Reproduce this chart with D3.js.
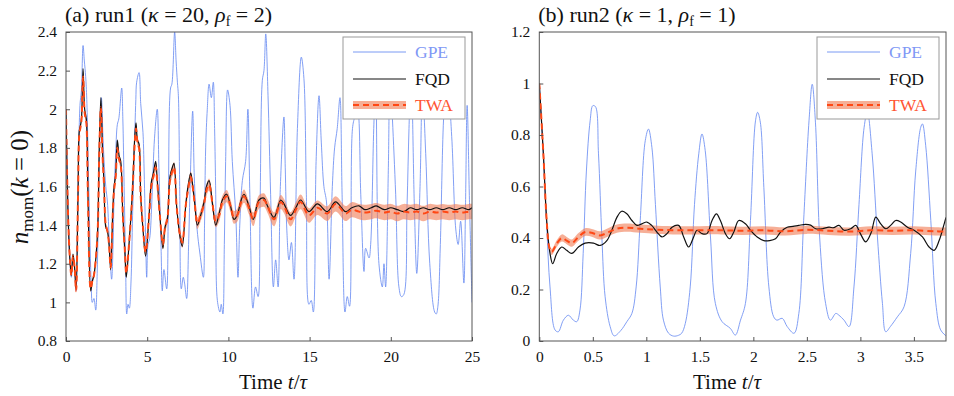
<!DOCTYPE html>
<html><head><meta charset="utf-8">
<script src="https://cdn.jsdelivr.net/npm/d3@7"></script>
<style>
body{margin:0;background:#fff;}
svg text{font-family:"Liberation Serif","DejaVu Serif",serif;}
</style></head>
<body><svg id="c" width="954" height="396"></svg>
<script>
// ---------- Panel (a) data ----------
const gpeT1 = [0,0.12,0.25,0.33,0.43,0.53,0.62,0.74,0.86,0.95,1.05,1.13,1.21,1.28,1.4,1.55,1.62,1.72,1.83,1.92,2.02,2.1,2.18,2.28,2.34,2.45,2.55,2.65,2.81,2.9,2.96,3.05,3.16,3.25,3.43,3.5,3.58,3.67,3.74,3.82,3.9,4.0,4.1,4.19,4.3,4.35,4.5,4.6,4.74,4.8,4.9,4.97,5.05,5.15,5.3,5.45,5.62,5.72,5.85,5.93,6.03,6.2,6.3,6.44,6.52,6.69,6.78,6.86,6.92,7.0,7.1,7.22,7.3,7.43,7.55,7.63,7.8,7.9,8.06,8.25,8.46,8.53,8.6,8.7,8.81,8.95,9.07,9.15,9.22,9.32,9.48,9.56,9.66,9.75,9.83,9.95,10.1,10.24,10.45,10.59,10.7,10.86,11.06,11.2,11.32,11.51,11.67,11.83,11.95,12.09,12.19,12.3,12.44,12.6,12.77,12.91,13.06,13.2,13.42,13.5,13.6,13.73,13.88,14.04,14.25,14.49,14.65,14.8,14.96,15.1,15.23,15.4,15.58,15.72,15.88,16.04,16.2,16.4,16.54,16.7,16.87,17.0,17.18,17.32,17.46,17.64,17.78,17.95,18.15,18.35,18.45,18.66,18.76,18.95,19.07,19.27,19.48,19.58,19.68,19.85,19.95,20.1,20.3,20.5,20.65,20.8,21.0,21.12,21.25,21.45,21.6,21.8,21.95,22.15,22.4,22.7,22.8,22.9,23.05,23.25,23.45,23.75,24.0,24.15,24.3,24.5,24.6,24.7,24.85,25.0];
const gpeV1 = [2.0,1.5,1.2,1.13,1.24,1.17,1.06,1.55,2.02,2.1,2.33,2.25,2.17,2.05,1.6,1.1,1.0,1.02,0.96,1.15,1.6,1.9,2.06,1.85,1.74,1.6,1.52,1.35,1.12,1.3,1.56,1.75,1.92,1.95,2.11,1.95,1.6,1.21,0.94,0.99,0.97,1.1,1.45,1.73,2.05,2.14,2.19,2.03,1.88,1.72,1.35,1.13,1.3,1.33,1.55,1.85,2.0,1.7,1.3,1.06,1.17,1.07,1.5,2.11,2.13,2.4,2.25,2.14,2.07,1.6,1.07,1.13,1.1,1.02,1.3,1.56,1.99,1.65,1.39,1.25,1.13,1.4,1.8,2.0,2.13,2.06,2.14,1.9,1.56,1.01,0.95,0.99,0.94,1.3,1.73,2.1,2.02,1.73,1.46,1.13,1.4,1.63,1.73,2.0,1.56,0.97,1.08,1.03,1.5,2.15,2.2,2.39,2.07,1.56,1.08,1.22,1.08,1.6,1.96,1.7,1.37,1.22,1.31,1.12,1.9,2.27,2.16,1.56,0.99,1.01,0.95,1.73,2.07,1.83,1.6,1.52,1.12,1.6,1.8,1.9,2.06,1.56,0.95,1.03,0.98,1.9,1.96,2.0,1.56,1.16,1.28,1.23,1.3,1.9,2.15,1.2,1.08,1.2,1.08,1.7,2.2,1.95,1.56,1.08,1.03,1.04,1.5,1.9,2.2,1.5,1.15,1.6,2.1,1.77,1.2,0.95,0.94,0.98,1.3,1.95,2.2,1.86,1.38,1.3,1.42,1.1,1.5,2.02,1.5,1.0];

const meanT1 = [0,0.12,0.25,0.33,0.43,0.53,0.62,0.74,0.82,0.9,0.96,1.05,1.15,1.25,1.35,1.52,1.62,1.72,1.82,1.95,2.05,2.15,2.25,2.34,2.45,2.55,2.65,2.75,2.88,2.96,3.06,3.16,3.27,3.37,3.5,3.63,3.71,3.88,4.08,4.23,4.31,4.4,4.5,4.6,4.74,4.9,5.1,5.25,5.38,5.52,5.62,5.78,5.97,6.1,6.24,6.4,6.55,6.65,6.81,7.02,7.16,7.37,7.51,7.68,7.78,7.93,8.09,8.29,8.5,8.65,8.81,9.02,9.22,9.43,9.63,9.89,10.13,10.34,10.54,10.75,10.96,11.26,11.53,11.88,12.19,12.4,12.81,13.22,13.42,13.83,14.15,14.45,14.96,15.48,16.09,16.6,17.22,17.6,18.04,18.4,18.8,19.1,19.6,20.0,20.4,20.8,21.2,21.6,22.0,22.4,22.8,23.2,23.6,24.0,24.4,24.8,25.0];
const fqdV1 = [2.0,1.47,1.21,1.14,1.25,1.18,1.07,1.56,1.89,1.92,1.96,2.21,2.0,1.95,1.56,1.06,1.11,1.14,1.21,1.38,1.81,2.06,1.78,1.62,1.39,1.37,1.3,1.17,1.47,1.6,1.66,1.84,1.76,1.73,1.45,1.25,1.13,1.3,1.56,1.85,1.93,1.84,1.82,1.55,1.38,1.24,1.43,1.62,1.67,1.73,1.63,1.45,1.28,1.39,1.43,1.65,1.7,1.72,1.5,1.34,1.29,1.5,1.6,1.67,1.62,1.51,1.4,1.45,1.52,1.6,1.63,1.51,1.4,1.46,1.53,1.56,1.5,1.43,1.45,1.52,1.56,1.5,1.43,1.53,1.54,1.5,1.44,1.53,1.51,1.45,1.49,1.53,1.47,1.51,1.47,1.52,1.47,1.49,1.5,1.48,1.49,1.5,1.48,1.49,1.48,1.47,1.49,1.48,1.49,1.48,1.49,1.48,1.49,1.48,1.49,1.48,1.49];
const twaV1 = [2.0,1.47,1.21,1.14,1.24,1.18,1.06,1.55,1.87,1.91,1.95,2.17,1.98,1.93,1.55,1.07,1.11,1.14,1.21,1.37,1.78,2.01,1.76,1.61,1.4,1.37,1.3,1.18,1.46,1.58,1.65,1.8,1.74,1.71,1.45,1.26,1.15,1.3,1.55,1.82,1.9,1.83,1.8,1.55,1.39,1.26,1.43,1.6,1.65,1.7,1.62,1.45,1.3,1.39,1.43,1.63,1.68,1.7,1.5,1.35,1.31,1.5,1.58,1.65,1.61,1.51,1.41,1.45,1.51,1.58,1.61,1.51,1.42,1.45,1.52,1.55,1.5,1.44,1.45,1.51,1.55,1.49,1.43,1.52,1.53,1.5,1.43,1.52,1.5,1.43,1.48,1.52,1.45,1.49,1.46,1.51,1.46,1.48,1.47,1.465,1.47,1.475,1.465,1.47,1.46,1.47,1.465,1.47,1.46,1.47,1.465,1.47,1.465,1.47,1.465,1.47,1.47];
const twaE1 = [0.005,0.008,0.01,0.01,0.01,0.01,0.012,0.012,0.012,0.012,0.012,0.014,0.014,0.014,0.014,0.015,0.015,0.015,0.015,0.016,0.016,0.016,0.017,0.017,0.017,0.018,0.018,0.018,0.019,0.019,0.019,0.02,0.02,0.02,0.02,0.021,0.021,0.021,0.022,0.022,0.022,0.022,0.023,0.023,0.023,0.024,0.024,0.024,0.025,0.025,0.025,0.025,0.026,0.026,0.026,0.027,0.027,0.027,0.027,0.028,0.028,0.028,0.029,0.029,0.029,0.03,0.03,0.03,0.03,0.03,0.031,0.031,0.031,0.032,0.032,0.032,0.033,0.033,0.033,0.034,0.034,0.034,0.035,0.035,0.035,0.036,0.036,0.036,0.037,0.037,0.037,0.038,0.038,0.038,0.038,0.039,0.039,0.039,0.039,0.04,0.04,0.04,0.04,0.04,0.04,0.04,0.04,0.04,0.04,0.04,0.04,0.04,0.04,0.04,0.04,0.04,0.04];

// ---------- Panel (b) data ----------
const gpeT2 = [0,0.038,0.069,0.1,0.147,0.178,0.225,0.272,0.318,0.35,0.38,0.41,0.44,0.475,0.5,0.525,0.553,0.585,0.615,0.662,0.7,0.76,0.818,0.865,0.905,0.943,0.99,1.02,1.052,1.085,1.13,1.16,1.208,1.255,1.3,1.33,1.364,1.41,1.45,1.49,1.52,1.55,1.6,1.645,1.708,1.785,1.832,1.88,1.926,1.973,2.02,2.04,2.065,2.098,2.145,2.19,2.22,2.27,2.316,2.38,2.425,2.47,2.52,2.55,2.58,2.62,2.675,2.72,2.77,2.8,2.847,2.894,2.94,2.987,3.035,3.065,3.11,3.16,3.206,3.237,3.28,3.346,3.408,3.47,3.517,3.564,3.58,3.61,3.658,3.705,3.75,3.8];
const gpeV2 = [1.0,0.72,0.45,0.21,0.043,0.036,0.081,0.1,0.081,0.075,0.12,0.34,0.66,0.855,0.914,0.91,0.727,0.40,0.172,0.056,0.02,0.04,0.075,0.107,0.21,0.468,0.778,0.823,0.752,0.53,0.21,0.081,0.03,0.019,0.022,0.03,0.068,0.21,0.53,0.727,0.804,0.74,0.40,0.146,0.075,0.049,0.023,0.081,0.146,0.468,0.855,0.888,0.85,0.597,0.21,0.094,0.081,0.088,0.056,0.03,0.107,0.468,0.855,0.997,0.85,0.40,0.146,0.081,0.107,0.10,0.081,0.056,0.21,0.53,0.83,0.89,0.727,0.40,0.146,0.036,0.056,0.094,0.133,0.34,0.66,0.83,0.843,0.76,0.468,0.146,0.043,0.02];

const fqdT2 = [0,0.038,0.069,0.1,0.125,0.163,0.21,0.256,0.303,0.366,0.428,0.506,0.568,0.631,0.678,0.725,0.77,0.818,0.865,0.912,0.958,1.005,1.05,1.099,1.146,1.193,1.24,1.302,1.349,1.395,1.442,1.473,1.52,1.567,1.614,1.655,1.692,1.739,1.779,1.817,1.864,1.926,1.973,2.036,2.098,2.15,2.207,2.254,2.316,2.37,2.425,2.488,2.535,2.582,2.644,2.707,2.75,2.8,2.847,2.91,2.957,3.0,3.05,3.1,3.144,3.19,3.238,3.285,3.33,3.377,3.44,3.502,3.58,3.642,3.689,3.736,3.783,3.8];
const fqdV2 = [1.0,0.727,0.468,0.34,0.30,0.34,0.365,0.352,0.34,0.365,0.38,0.38,0.371,0.39,0.43,0.48,0.504,0.494,0.468,0.449,0.455,0.462,0.449,0.423,0.404,0.417,0.442,0.449,0.404,0.365,0.404,0.43,0.417,0.417,0.468,0.494,0.468,0.417,0.397,0.423,0.468,0.455,0.43,0.404,0.39,0.39,0.397,0.423,0.442,0.445,0.449,0.453,0.45,0.436,0.436,0.442,0.44,0.449,0.43,0.436,0.449,0.417,0.385,0.42,0.481,0.455,0.436,0.45,0.468,0.462,0.442,0.43,0.404,0.365,0.352,0.39,0.455,0.48];

const twaT2 = [0,0.038,0.069,0.093,0.116,0.163,0.21,0.256,0.303,0.366,0.428,0.49,0.568,0.647,0.725,0.818,0.943,1.1,1.3,1.5,1.7,1.9,2.1,2.3,2.5,2.7,2.9,3.1,3.3,3.5,3.7,3.8];
const twaV2 = [1.0,0.727,0.468,0.365,0.346,0.378,0.40,0.39,0.38,0.404,0.423,0.42,0.41,0.423,0.436,0.44,0.436,0.432,0.43,0.43,0.43,0.428,0.43,0.426,0.432,0.428,0.425,0.43,0.428,0.43,0.426,0.425];
const twaE2 = [0.003,0.006,0.008,0.01,0.012,0.013,0.014,0.014,0.014,0.015,0.015,0.015,0.016,0.016,0.016,0.016,0.016,0.016,0.016,0.016,0.016,0.016,0.016,0.016,0.016,0.016,0.016,0.016,0.016,0.016,0.016,0.016];

// ---------- ticks ----------
const xTicks1 = [0,5,10,15,20,25];
const yTicks1 = [0.8,1,1.2,1.4,1.6,1.8,2,2.2,2.4];
const xTicks2 = [0,0.5,1,1.5,2,2.5,3,3.5];
const yTicks2 = [0,0.2,0.4,0.6,0.8,1,1.2];
const legendLabels = ["GPE","FQD","TWA"];

const C_GPE = "#6b8ef2", C_GPE_TXT = "#7f98f5", C_FQD = "#111", C_TWA = "#ff4815", C_BAND = "#f07a52";

const svg = d3.select("#c");
const zip = (t, v) => t.map((d, i) => [d, v[i]]);

function panel(opt) {
  const x = d3.scaleLinear().domain(opt.xd).range([opt.x0, opt.x1]);
  const y = d3.scaleLinear().domain(opt.yd).range([341, 32]);
  const g = svg.append("g");
  const cid = "clip" + opt.id;
  svg.append("clipPath").attr("id", cid).append("rect")
    .attr("x", opt.x0).attr("y", 32).attr("width", opt.x1 - opt.x0).attr("height", 309);
  const pg = g.append("g").attr("clip-path", `url(#${cid})`);

  const line = d3.line().x(d => x(d[0])).y(d => y(d[1])).curve(d3.curveCatmullRom.alpha(0.5));
  pg.append("path").datum(zip(opt.gT, opt.gV)).attr("d", line)
    .attr("fill", "none").attr("stroke", C_GPE).attr("stroke-width", 0.85);
  const band = opt.tT.map((t, i) => [t, opt.tV[i] - opt.tE[i], opt.tV[i] + opt.tE[i]]);
  pg.append("path").datum(band)
    .attr("d", d3.area().x(d => x(d[0])).y0(d => y(d[1])).y1(d => y(d[2])).curve(d3.curveCatmullRom.alpha(0.5)))
    .attr("fill", C_BAND).attr("opacity", 0.6);
  pg.append("path").datum(zip(opt.fT, opt.fV)).attr("d", line)
    .attr("fill", "none").attr("stroke", C_FQD).attr("stroke-width", 1.2);
  pg.append("path").datum(zip(opt.tT, opt.tV)).attr("d", line)
    .attr("fill", "none").attr("stroke", C_TWA).attr("stroke-width", 2).attr("stroke-dasharray", "6,4");

  const ax = g.append("g").attr("transform", "translate(0,341)")
    .call(d3.axisBottom(x).tickValues(opt.xt).tickSizeInner(-4).tickSizeOuter(0).tickPadding(10).tickFormat(d3.format("")));
  const ay = g.append("g").attr("transform", `translate(${opt.x0},0)`)
    .call(d3.axisLeft(y).tickValues(opt.yt).tickSizeInner(-4).tickSizeOuter(0).tickPadding(9).tickFormat(d3.format("")));
  [ax, ay].forEach(a => {
    a.select(".domain").remove();
    a.selectAll("line").attr("stroke", "#555");
    a.selectAll("text").attr("font-size", 15.5).attr("fill", "#111")
      .style("font-family", '"Liberation Serif",serif');
  });
  g.append("rect").attr("x", opt.x0).attr("y", 32).attr("width", opt.x1 - opt.x0).attr("height", 309)
    .attr("fill", "none").attr("stroke", "#555").attr("stroke-width", 1);

  const tt = g.append("text").attr("x", opt.x0 - 1).attr("y", 22).attr("font-size", 22).attr("fill", "#111");
  tt.append("tspan").text(opt.title[0]);
  tt.append("tspan").attr("font-style", "italic").text("κ");
  tt.append("tspan").text(opt.title[1]);
  tt.append("tspan").attr("font-style", "italic").text("ρ");
  tt.append("tspan").attr("font-size", 14).attr("dy", 4).text("f");
  tt.append("tspan").attr("dy", -4).text(opt.title[2]);

  const xl = g.append("text").attr("x", opt.xlab).attr("y", 389).attr("text-anchor", "middle").attr("font-size", 21).attr("fill", "#111");
  xl.append("tspan").text("Time ");
  xl.append("tspan").attr("font-style", "italic").text("t");
  xl.append("tspan").text("/");
  xl.append("tspan").attr("font-style", "italic").text("τ");

  const lx = opt.lx, ly = 37;
  const lg = g.append("g");
  lg.append("rect").attr("x", lx).attr("y", ly).attr("width", 122).attr("height", 82)
    .attr("fill", "#fff").attr("stroke", "#999").attr("stroke-width", 1);
  const rows = [ly + 15, ly + 42, ly + 68];
  const lx1 = lx + 10, lx2 = lx + 63;
  lg.append("line").attr("x1", lx1).attr("x2", lx2).attr("y1", rows[0]).attr("y2", rows[0]).attr("stroke", C_GPE).attr("stroke-width", 0.9);
  lg.append("line").attr("x1", lx1).attr("x2", lx2).attr("y1", rows[1]).attr("y2", rows[1]).attr("stroke", C_FQD).attr("stroke-width", 1.2);
  lg.append("rect").attr("x", lx1).attr("y", rows[2] - 4).attr("width", lx2 - lx1).attr("height", 8).attr("fill", C_BAND).attr("opacity", 0.6);
  lg.append("line").attr("x1", lx1).attr("x2", lx2).attr("y1", rows[2]).attr("y2", rows[2]).attr("stroke", C_TWA).attr("stroke-width", 2).attr("stroke-dasharray", "6,4");
  const cols = [C_GPE_TXT, "#111", "#ff5533"];
  legendLabels.forEach((s, i) => lg.append("text").attr("x", lx + 72).attr("y", rows[i] + 6)
    .attr("font-size", 17.5).attr("fill", cols[i]).text(s));
}

panel({id: 1, x0: 66, x1: 472, xd: [0, 25], yd: [0.8, 2.4], xt: xTicks1, yt: yTicks1,
  gT: gpeT1, gV: gpeV1, fT: meanT1, fV: fqdV1, tT: meanT1, tV: twaV1, tE: twaE1,
  title: ["(a) run1 (", " = 20, ", " = 2)"], xlab: 273, lx: 343});
panel({id: 2, x0: 539.3, x1: 946, xd: [0, 3.8], yd: [0, 1.2], xt: xTicks2, yt: yTicks2,
  gT: gpeT2, gV: gpeV2, fT: fqdT2, fV: fqdV2, tT: twaT2, tV: twaV2, tE: twaE2,
  title: ["(b) run2 (", " = 1, ", " = 1)"], xlab: 727, lx: 817});

const yl = svg.append("text").attr("transform", "translate(28,187) rotate(-90)")
  .attr("text-anchor", "middle").attr("font-size", 25).attr("fill", "#111");
yl.append("tspan").attr("font-style", "italic").text("n");
yl.append("tspan").attr("font-size", 17).attr("dy", 5).text("mom");
yl.append("tspan").attr("dy", -5).text("(");
yl.append("tspan").attr("font-style", "italic").text("k");
yl.append("tspan").text(" = 0)");
</script></body></html>
